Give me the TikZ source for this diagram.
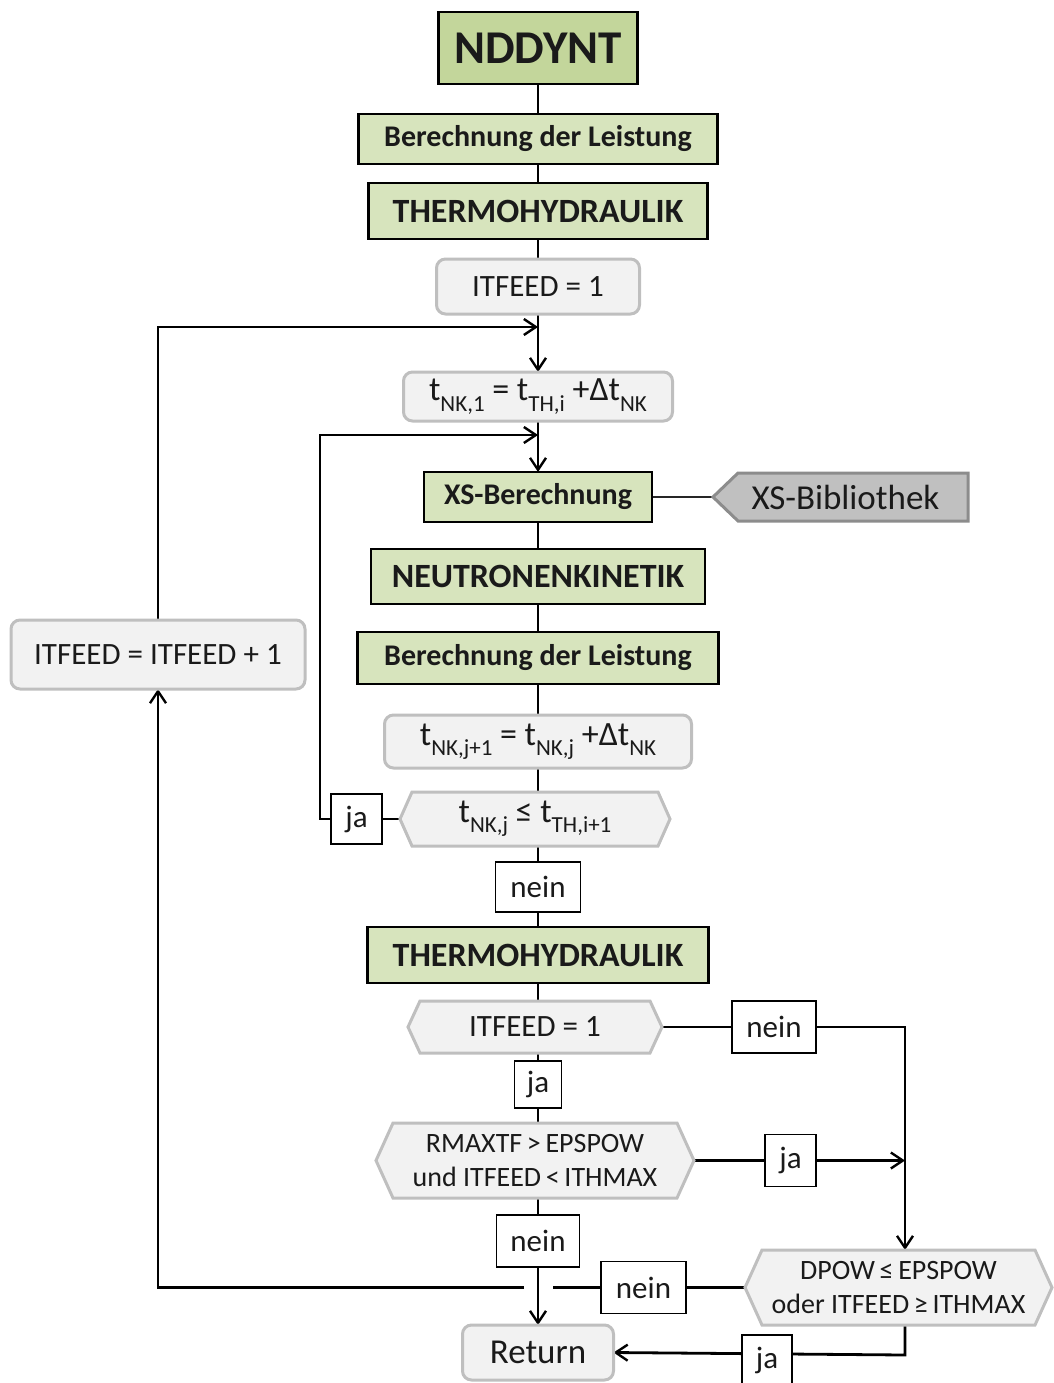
\documentclass[tikz,border=0pt]{standalone}
\usepackage{fontspec}
\setmainfont{Carlito}
\usetikzlibrary{arrows.meta}
\definecolor{grnA}{HTML}{C3D69B}
\definecolor{grnB}{HTML}{D7E4BD}
\definecolor{boxgray}{HTML}{F2F2F2}
\definecolor{edgegray}{HTML}{BFBFBF}
\definecolor{libgray}{HTML}{C0C0C0}
\definecolor{libedge}{HTML}{8C8C8C}
\definecolor{ink}{HTML}{1A1A1A}
\pgfdeclarelayer{bg}
\pgfdeclarelayer{mid}
\pgfsetlayers{bg,mid,main}
\newcommand\fs[1]{\fontsize{#1}{#1}\selectfont}
\newcommand\lo[1]{\raisebox{-0.3em}{\fontsize{23}{23}\selectfont #1}}
% hexagonal decision outline drawn behind the node text
\newcommand\hexpath[2]{%
  \begin{pgfonlayer}{mid}
    \draw[decision] ([xshift=#2]#1.north west) -- ([xshift=-#2]#1.north east) -- (#1.east)
      -- ([xshift=-#2]#1.south east) -- ([xshift=#2]#1.south west) -- (#1.west) -- cycle;
  \end{pgfonlayer}}
\tikzset{
  x=1pt, y=-1pt,
  every node/.style={inner sep=0pt, outer sep=0pt, align=center, text=ink},
  proc/.style={draw=black, line width=2.2pt, fill=grnB, font=\bfseries\fs{30}},
  rbox/.style={draw=edgegray, line width=3pt, fill=boxgray, rounded corners=9pt, font=\fs{31}},
  decision/.style={draw=edgegray, line width=3pt, fill=boxgray},
  dtext/.style={font=\fs{31}},
  two/.style={font=\fontsize{28}{34}\selectfont},
  lbl/.style={draw=black, line width=1.4pt, fill=white, font=\fs{31}},
  conn/.style={line width=2.8pt, draw=black},
  arr/.style={conn, -{Straight Barb[length=12pt,width=16pt,line width=2.4pt]}}
}
\begin{document}
\begin{tikzpicture}
\useasboundingbox (0,0) rectangle (1053,1383);

% main column
\node[proc, fill=grnA, minimum width=199, minimum height=72, font=\bfseries\fs{47}] (nd) at (538,48) {NDDYNT};
\node[proc, minimum width=359, minimum height=50] (bl1) at (538,139) {Berechnung der Leistung};
\node[proc, minimum width=339, minimum height=56, font=\bfseries\fs{34}] (th1) at (538,211) {THERMOHYDRAULIK};
\node[rbox, minimum width=203, minimum height=55] (it1) at (538,286.5) {ITFEED = 1};
\node[rbox, minimum width=269, minimum height=49, font=\fs{34}] (tn1) at (538,396.5) {t\lo{NK,1} = t\lo{TH,i} +Δt\lo{NK}};
\node[proc, minimum width=228, minimum height=50] (xs) at (538,497) {XS-Berechnung};
\node[minimum width=255, minimum height=48, font=\fs{35}] (xsb) at (840.5,497) {\hspace*{10pt}XS-Bibliothek};
\node[proc, minimum width=334, minimum height=55, font=\bfseries\fs{34}] (nk) at (538,576.5) {NEUTRONENKINETIK};
\node[proc, minimum width=361, minimum height=52] (bl2) at (538,658) {Berechnung der Leistung};
\node[rbox, minimum width=307, minimum height=53, font=\fs{34}] (tn2) at (538,741.5) {t\lo{NK,j+1} = t\lo{NK,j} +Δt\lo{NK}};
\node[dtext, minimum width=270, minimum height=54, font=\fs{34}] (d1) at (535,819) {t\lo{NK,j} ≤ t\lo{TH,i+1}};
\node[lbl, minimum width=51, minimum height=50] (ja1) at (356.5,819) {ja};
\node[lbl, minimum width=85, minimum height=50] (nein1) at (538,887) {nein};
\node[proc, minimum width=341, minimum height=56, font=\bfseries\fs{34}] (th2) at (538,955) {THERMOHYDRAULIK};
\node[dtext, minimum width=254, minimum height=52] (d2) at (535,1027) {ITFEED = 1};
\node[lbl, minimum width=84, minimum height=52] (nein2) at (774,1027) {nein};
\node[lbl, minimum width=47, minimum height=47] (ja2) at (538,1084.5) {ja};
\node[dtext, two, minimum width=318, minimum height=75] (d3) at (535,1160.5) {RMAXTF\,>\,EPSPOW\\und ITFEED\,<\,ITHMAX};
\node[lbl, minimum width=51, minimum height=52] (ja3) at (790.5,1160.5) {ja};
\node[lbl, minimum width=83, minimum height=52] (nein3) at (538,1241) {nein};
\node[dtext, two, minimum width=307, minimum height=75] (d4) at (898.5,1287.5) {DPOW\,≤\,EPSPOW\\oder ITFEED\,≥\,ITHMAX};
\node[lbl, minimum width=85, minimum height=52] (nein4) at (643.5,1287.5) {nein};
\node[rbox, minimum width=151, minimum height=55, font=\fs{35}] (ret) at (538,1352.5) {Return};
\node[lbl, minimum width=50, minimum height=50] (ja4) at (767,1360) {ja};
\node[rbox, minimum width=294, minimum height=69] (inc) at (158,654.5) {ITFEED = ITFEED + 1};

% decision outlines
\hexpath{d1}{12pt}
\hexpath{d2}{12pt}
\hexpath{d3}{17pt}
\hexpath{d4}{17pt}
\begin{pgfonlayer}{mid}
  \draw[draw=libedge, fill=libgray, line width=3pt]
    ([xshift=25pt]xsb.north west) -- (xsb.north east) -- (xsb.south east)
    -- ([xshift=25pt]xsb.south west) -- (xsb.west) -- cycle;
\end{pgfonlayer}

% bends and merge points
\coordinate (m1) at (538,327);
\coordinate (m2) at (538,435);
\coordinate (c2) at (320,819);
\coordinate (v1) at (905,1027);
\coordinate (j1) at (905,1160.5);
\coordinate (v2) at (905,1355);
\coordinate (gR) at (553,1287.5);
\coordinate (gL) at (524,1287.5);
\coordinate (c4) at (158,1287.5);

\begin{pgfonlayer}{bg}
  \draw[conn] (nd.south) -- (bl1.north);
  \draw[conn] (bl1.south) -- (th1.north);
  \draw[conn] (th1.south) -- (it1.north);
  \draw[arr] (it1.south) -- (tn1.north);
  \draw[arr] (inc.north) |- (m1);
  \draw[arr] (tn1.south) -- (xs.north);
  \draw[arr] (ja1.west) -| (c2) |- (m2);
  \draw[conn, draw=black!85, line width=2.4pt] (xs.east) -- (xsb.west);
  \draw[conn] (xs.south) -- (nk.north);
  \draw[conn] (nk.south) -- (bl2.north);
  \draw[conn] (bl2.south) -- (tn2.north);
  \draw[conn] (tn2.south) -- (tn2.south |- d1.north);
  \draw[conn] (d1.west) -- (ja1.east);
  \draw[conn] (nein1.north |- d1.south) -- (nein1.north);
  \draw[conn] (nein1.south) -- (th2.north);
  \draw[conn] (th2.south) -- (th2.south |- d2.north);
  \draw[conn] (d2.east) -- (nein2.west);
  \draw[arr] (nein2.east) -- (v1) -- (v1 |- d4.north);
  \draw[conn] (ja2.north |- d2.south) -- (ja2.north);
  \draw[conn] (ja2.south) -- (ja2.south |- d3.north);
  \draw[conn] (d3.east) -- (ja3.west);
  \draw[arr] (ja3.east) -- (j1);
  \draw[conn] (nein3.north |- d3.south) -- (nein3.north);
  \draw[arr] (nein3.south) -- (ret.north);
  \draw[conn] (d4.west) -- (nein4.east);
  \draw[conn] (nein4.west) -- (gR);
  \draw[arr] (gL) -- (c4) -- (inc.south);
  \draw[arr] (v2 |- d4.south) -- (v2) -- (ret.east);
\end{pgfonlayer}
\end{tikzpicture}
\end{document}
